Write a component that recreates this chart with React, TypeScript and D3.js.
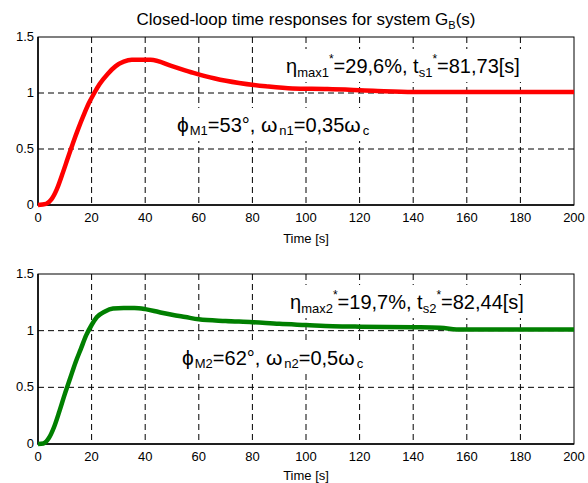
import { useEffect, useRef } from 'react';
import * as d3 from 'd3';

// sample times and step-response values
const time1 = [0, 3, 5, 7, 9, 11, 13, 15, 17, 19, 21, 23, 26, 29, 32, 35, 42, 50, 58, 66, 75, 85, 95, 108, 125, 140, 200];
const resp1 = [0, 0.01, 0.05, 0.14, 0.27, 0.41, 0.55, 0.68, 0.8, 0.91, 1.0, 1.08, 1.17, 1.24, 1.28, 1.296, 1.296, 1.24, 1.18, 1.13, 1.09, 1.06, 1.04, 1.035, 1.02, 1.01, 1.01];

const time2 = [0, 2, 4, 6, 8, 10, 12, 14, 16, 18, 20, 22, 25, 28, 32, 36, 40, 45, 50, 55, 60, 70, 80, 90, 100, 110, 120, 140, 150, 158, 200];
const resp2 = [0, 0.005, 0.05, 0.15, 0.29, 0.44, 0.58, 0.72, 0.84, 0.96, 1.05, 1.12, 1.17, 1.195, 1.2, 1.2, 1.19, 1.165, 1.14, 1.12, 1.1, 1.085, 1.075, 1.06, 1.05, 1.04, 1.035, 1.03, 1.025, 1.01, 1.01];

const xTicks = [0, 20, 40, 60, 80, 100, 120, 140, 160, 180, 200];
const yTicks = [0, 0.5, 1, 1.5];
const yTickLabels = ['0', '0.5', '1', '1.5'];

const FONT = 'Liberation Sans, Arial, Helvetica, sans-serif';

const App = () => {
  const ref = useRef<SVGSVGElement>(null);

  useEffect(() => {
    const svg = d3.select(ref.current);
    svg.selectAll('*').remove();

    const left = 38;
    const right = 574;

    const panels = [
      { top: 37, bottom: 205, t: time1, v: resp1, color: '#ff0000', labelY: 243, n: '1', eta: '29,6%', ts: '81,73[s]', phi: '53°', wn: '0,35', annY: 73, annX: 286, phiY: 132, phiX: 177 },
      { top: 274, bottom: 444, t: time2, v: resp2, color: '#007f00', labelY: 480, n: '2', eta: '19,7%', ts: '82,44[s]', phi: '62°', wn: '0,5', annY: 309, annX: 290, phiY: 365, phiX: 182 },
    ];

    svg.append('text')
      .attr('x', (left + right) / 2)
      .attr('y', 25)
      .attr('text-anchor', 'middle')
      .attr('font-family', FONT)
      .attr('font-size', 17)
      .call(t => {
        t.append('tspan').text('Closed-loop time responses for system G');
        t.append('tspan').attr('font-size', 11).attr('dy', 4).text('B');
        t.append('tspan').attr('dy', -4).text('(s)');
      });

    panels.forEach(p => {
      const x = d3.scaleLinear().domain([0, 200]).range([left, right]);
      const y = d3.scaleLinear().domain([0, 1.5]).range([p.bottom, p.top]);
      const g = svg.append('g');

      // grid
      g.selectAll('.vg')
        .data(xTicks.slice(1, -1))
        .join('line')
        .attr('x1', d => x(d)).attr('x2', d => x(d))
        .attr('y1', p.top).attr('y2', p.bottom)
        .attr('stroke', '#000').attr('stroke-width', 1)
        .attr('stroke-dasharray', '6,4');
      g.selectAll('.hg')
        .data(yTicks.slice(1, -1))
        .join('line')
        .attr('x1', left).attr('x2', right)
        .attr('y1', d => y(d)).attr('y2', d => y(d))
        .attr('stroke', '#000').attr('stroke-width', 1)
        .attr('stroke-dasharray', '6,4');

      // box
      g.append('rect')
        .attr('x', left).attr('y', p.top)
        .attr('width', right - left).attr('height', p.bottom - p.top)
        .attr('fill', 'none').attr('stroke', '#000').attr('stroke-width', 1);
      g.append('path')
        .attr('d', `M${left},${p.top}V${p.bottom}H${right}`)
        .attr('fill', 'none').attr('stroke', '#000').attr('stroke-width', 1.5);

      // tick labels
      g.selectAll('.xl')
        .data(xTicks)
        .join('text')
        .attr('x', d => x(d))
        .attr('y', p.bottom + 17)
        .attr('text-anchor', 'middle')
        .attr('font-family', FONT)
        .attr('font-size', 13)
        .text(d => String(d));
      g.selectAll('.yl')
        .data(yTicks)
        .join('text')
        .attr('x', left - 4)
        .attr('y', d => y(d) + 4)
        .attr('text-anchor', 'end')
        .attr('font-family', FONT)
        .attr('font-size', 13)
        .text((d, i) => yTickLabels[i]);

      g.append('text')
        .attr('x', (left + right) / 2)
        .attr('y', p.labelY)
        .attr('text-anchor', 'middle')
        .attr('font-family', FONT)
        .attr('font-size', 13)
        .text('Time [s]');

      // response
      const line = d3.line<number>()
        .x((d, i) => x(p.t[i]))
        .y(d => y(d))
        .curve(d3.curveMonotoneX);
      g.append('path')
        .datum(p.v)
        .attr('fill', 'none')
        .attr('stroke', p.color)
        .attr('stroke-width', 4.5)
        .attr('stroke-linejoin', 'round')
        .attr('d', line);

      // annotations with white background, like MATLAB text boxes
      const boxed = (build: (t: d3.Selection<SVGTextElement, unknown, null, undefined>) => void, tx: number, ty: number, size: number) => {
        const bg = g.append('rect').attr('fill', '#fff');
        const t = g.append('text')
          .attr('x', tx).attr('y', ty)
          .attr('font-family', FONT).attr('font-size', size);
        build(t as any);
        const bb = (t.node() as SVGTextElement).getBBox();
        bg.attr('x', bb.x - 4).attr('y', ty - 24)
          .attr('width', bb.width + 8).attr('height', 33);
      };

      boxed(t => {
        t.append('tspan').text('η');
        t.append('tspan').attr('font-size', 13).attr('dy', 4).text('max' + p.n);
        t.append('tspan').attr('font-size', 12).attr('dy', -14).text('*');
        t.append('tspan').attr('dy', 10).text('=' + p.eta + ', t');
        t.append('tspan').attr('font-size', 13).attr('dy', 4).text('s' + p.n);
        t.append('tspan').attr('font-size', 12).attr('dy', -14).text('*');
        t.append('tspan').attr('dy', 10).text('=' + p.ts);
      }, p.annX, p.annY, 20);

      boxed(t => {
        t.append('tspan').attr('font-size', 21).text('ϕ');
        t.append('tspan').attr('font-size', 13).attr('dx', 1).attr('dy', 3).text('M' + p.n);
        t.append('tspan').attr('dy', -3).text('=' + p.phi + ', ');
        t.append('tspan').attr('font-size', 21).text('ω');
        t.append('tspan').attr('font-size', 13).attr('dx', 2).attr('dy', 3).text('n' + p.n);
        t.append('tspan').attr('dy', -3).text('=' + p.wn);
        t.append('tspan').attr('font-size', 21).text('ω');
        t.append('tspan').attr('font-size', 13).attr('dx', 2).attr('dy', 3).text('c');
      }, p.phiX, p.phiY, 20);
    });
  }, []);

  return (
    <svg
      ref={ref}
      width={588}
      height={483}
      style={{ position: 'absolute', left: 0, top: 0, background: '#fff' }}
    />
  );
};

export default App;
